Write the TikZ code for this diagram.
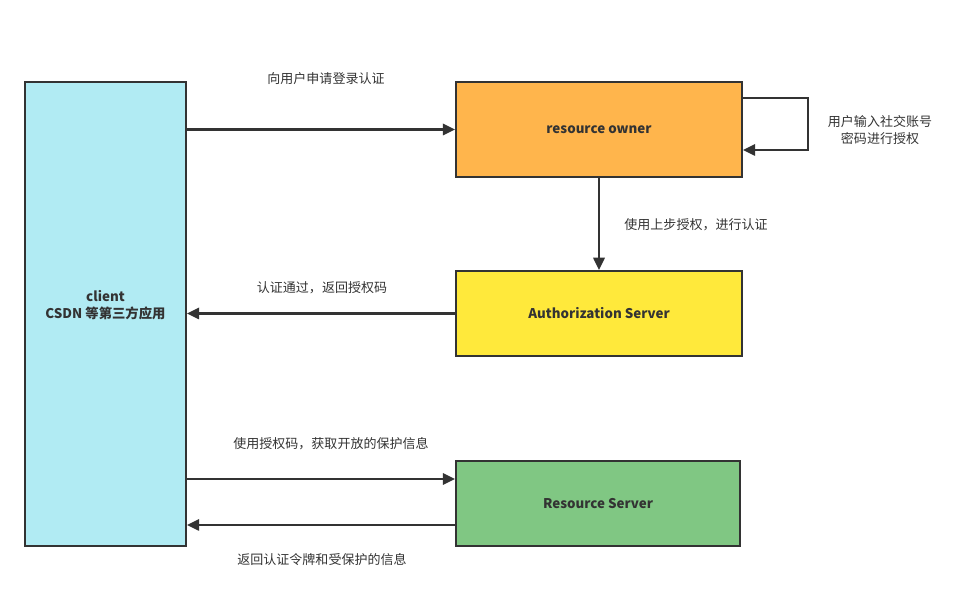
\documentclass[tikz,border=0pt]{standalone}
\usepackage{fontspec}
\setmainfont{Noto Sans CJK SC}
\usepackage{xcolor}
\definecolor{oaink}{RGB}{51,51,51}
\definecolor{oacyan}{RGB}{177,235,243}
\definecolor{oaorange}{RGB}{255,181,76}
\definecolor{oayellow}{RGB}{255,233,59}
\definecolor{oagreen}{RGB}{128,199,131}
\usetikzlibrary{arrows.meta,positioning}

\begin{document}
\begin{tikzpicture}[x=0.02cm, y=-0.02cm,
    box/.style={rectangle, draw=oaink, line width=1.1pt, align=center,
      text=oaink, font=\fontsize{7.6}{10}\selectfont\bfseries},
    lbl/.style={align=center, text=oaink, font=\fontsize{7.4}{10}\selectfont},
    flow/.style={draw=oaink, line width=1.15pt,
      -{Triangle[length=7pt, width=6.5pt]}}
  ]
    \useasboundingbox (0,0) rectangle (965,607);

    % Boxes
    \node[box, fill=oacyan, minimum width=3.22cm, minimum height=9.28cm,
      label={[box, draw=none, yshift=0.18cm]center:client\\CSDN 等第三方应用}]
      (client) at (105.5,314) {};
    \node[box, fill=oaorange, minimum width=5.72cm, minimum height=1.9cm]
      (owner) at (599,129.5) {resource owner};
    \node[box, fill=oayellow, minimum width=5.72cm, minimum height=1.7cm]
      (auth) at (599,313.5) {Authorization Server};
    \node[box, fill=oagreen, minimum width=5.68cm, minimum height=1.7cm]
      (res) at (598,503.5) {Resource Server};

    % Labels
    \node[lbl] (l1) at (326,79)  {向用户申请登录认证};
    \node[lbl] (l2) at (880,130) {用户输入社交账号\\密码进行授权};
    \node[lbl] (l3) at (696,225) {使用上步授权，进行认证};
    \node[lbl] (l4) at (322,288) {认证通过，返回授权码};
    \node[lbl] (l5) at (331,444) {使用授权码，获取开放的保护信息};
    \node[lbl] (l6) at (322,560) {返回认证令牌和受保护的信息};

    % Arrows
    \draw[flow] (owner.west -| client.east) -- (owner.west);
    \draw[flow] ([yshift=0.63cm]owner.east) -- ++(65,0)
      |- ([yshift=-0.41cm]owner.east);
    \draw[flow] (owner.south) -- (auth.north);
    \draw[flow] (auth.west) -- (auth.west -| client.east);
    \draw[flow] ([yshift=0.49cm]res.west -| client.east) -- ([yshift=0.49cm]res.west);
    \draw[flow] ([yshift=-0.43cm]res.west) -- ([yshift=-0.43cm]res.west -| client.east);
  \end{tikzpicture}
\end{document}
